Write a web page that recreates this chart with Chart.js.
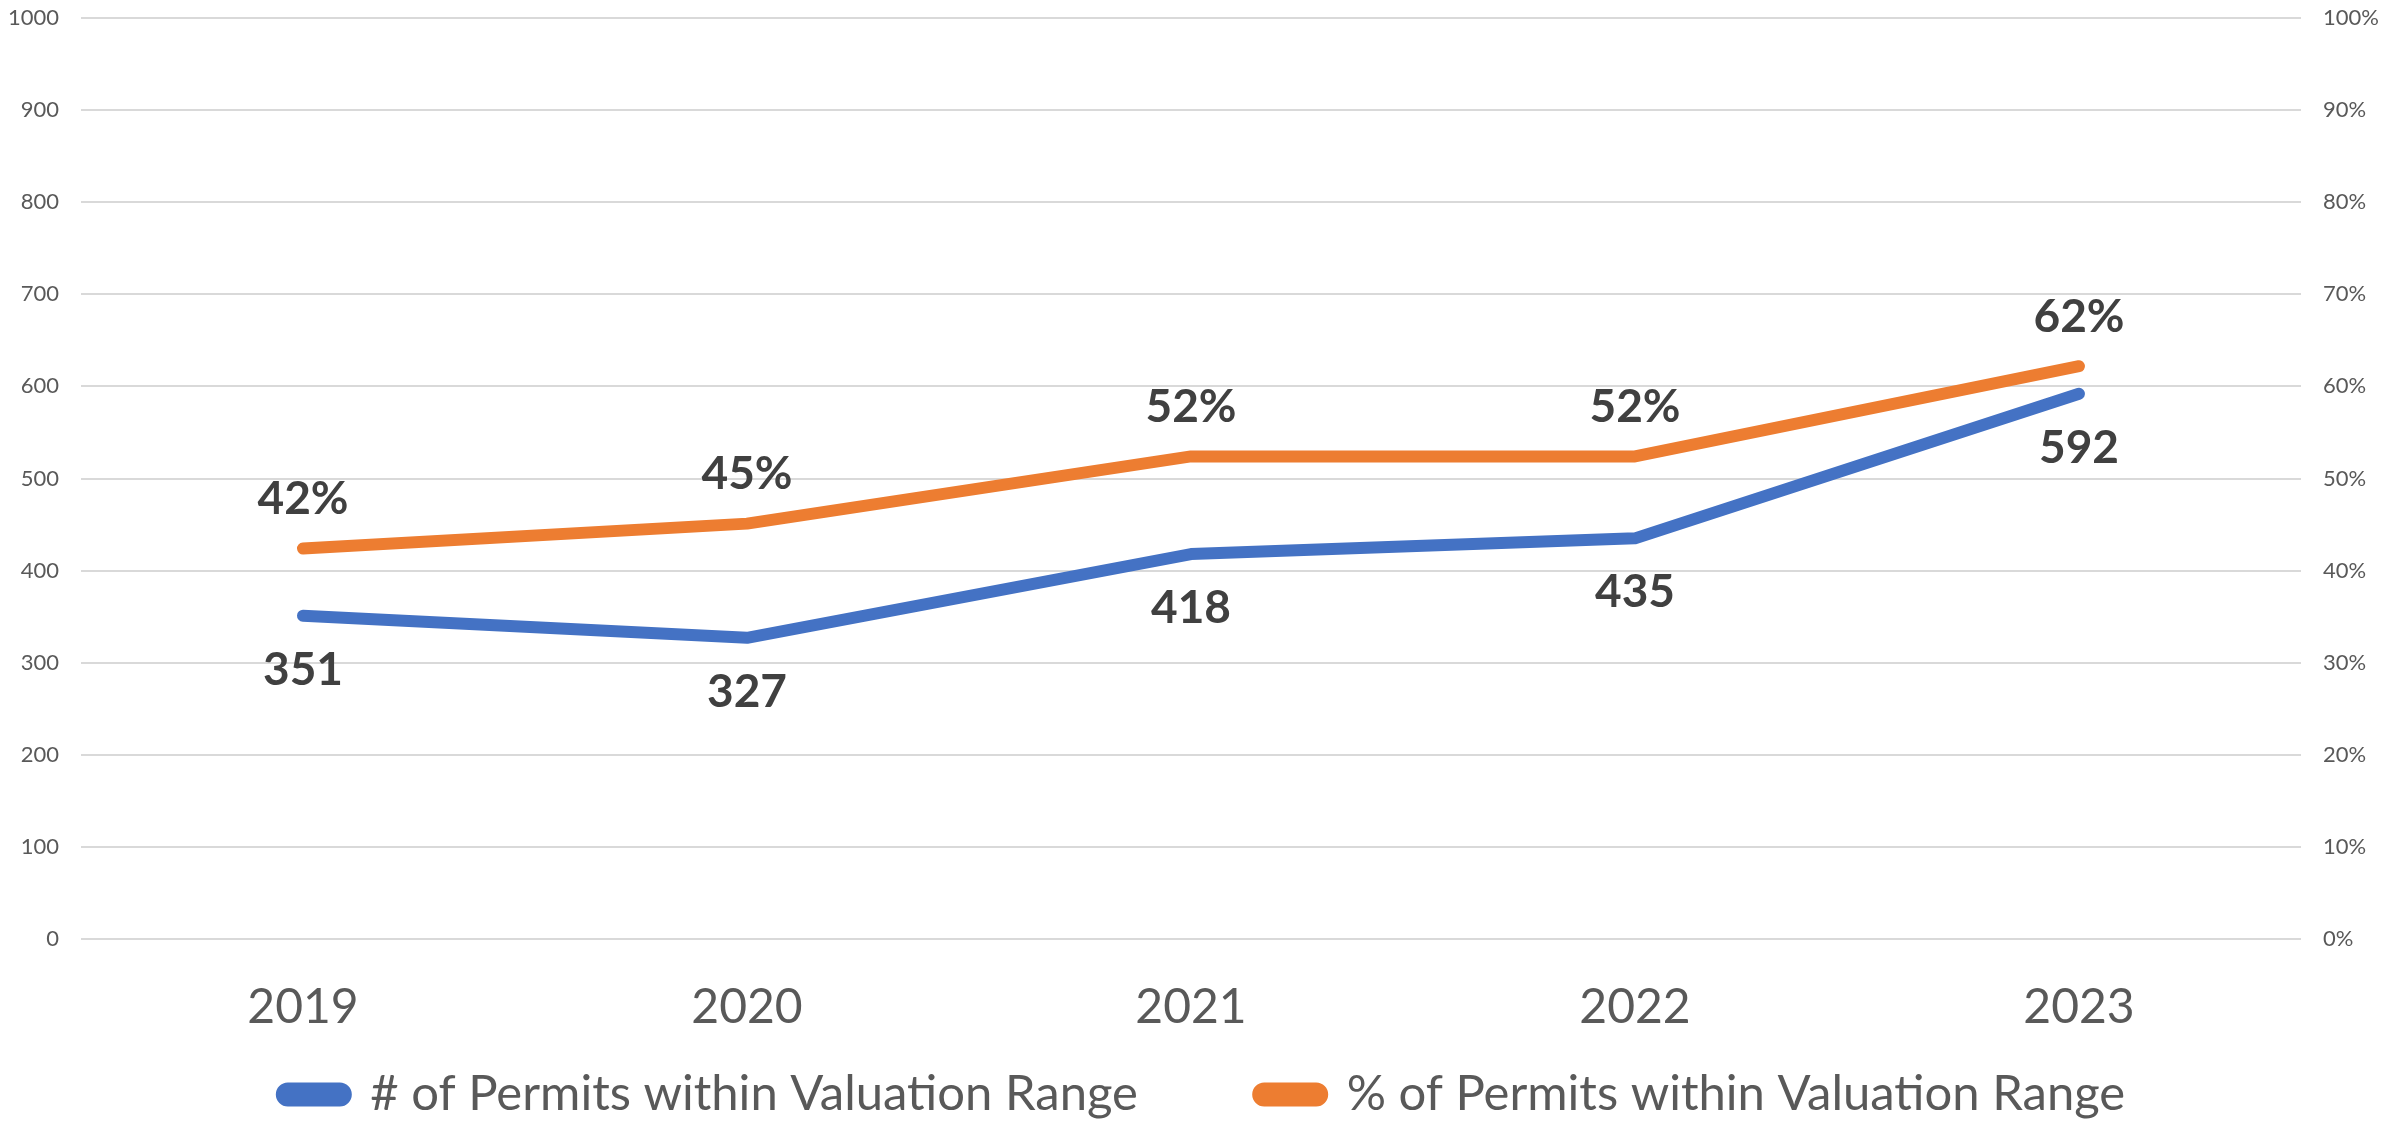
<!DOCTYPE html>
<html>
<head>
<meta charset="utf-8">
<script src="https://cdn.jsdelivr.net/npm/chart.js@4"></script>
<style>
  html, body { margin: 0; padding: 0; background: #fff; }
  #wrap { width: 2407px; height: 1121px; }
</style>
</head>
<body>
<div id="wrap"><canvas id="permitsChart"></canvas></div>
<script>
const years = ["2019", "2020", "2021", "2022", "2023"];
const permitCounts = [351, 327, 418, 435, 592];
const permitShares = [0.424, 0.451, 0.524, 0.524, 0.622];
const countTicks = [0, 100, 200, 300, 400, 500, 600, 700, 800, 900, 1000];
const shareTicks = [0, 0.1, 0.2, 0.3, 0.4, 0.5, 0.6, 0.7, 0.8, 0.9, 1];

const FONT = "Lato, 'Open Sans', sans-serif";

// value labels: counts under the blue line, shares over the orange one
const valueLabels = {
    id: "valueLabels",
    afterDatasetsDraw(chart) {
        const ctx = chart.ctx;
        ctx.save();
        ctx.font = "bold 46px " + FONT;
        ctx.fillStyle = "#404040";
        ctx.textAlign = "center";
        ctx.textBaseline = "middle";
        chart.data.datasets.forEach((ds, i) => {
            const meta = chart.getDatasetMeta(i);
            meta.data.forEach((pt, j) => {
                const v = ds.data[j];
                if (i === 0) {
                    ctx.fillText(String(v), pt.x, pt.y + 54);
                } else {
                    ctx.fillText(Math.round(v * 100) + "%", pt.x, pt.y - 49);
                }
            });
        });
        ctx.restore();
    }
};

// keep the y axes from pushing the plot area in
function fixSide(width) {
    return scale => {
        scale.width = width;
        scale.paddingTop = 0;
        scale.paddingBottom = 0;
    };
}

new Chart(document.getElementById("permitsChart"), {
    type: "line",
    data: {
        labels: years,
        datasets: [{
            label: "# of Permits within Valuation Range",
            data: permitCounts,
            yAxisID: "y",
            borderColor: "#4472C4",
            backgroundColor: "#4472C4",
            borderWidth: 12,
            borderCapStyle: "round",
            borderJoinStyle: "round",
            pointRadius: 0,
            tension: 0
        }, {
            label: "% of Permits within Valuation Range",
            data: permitShares,
            yAxisID: "y1",
            borderColor: "#ED7D31",
            backgroundColor: "#ED7D31",
            borderWidth: 12,
            borderCapStyle: "round",
            borderJoinStyle: "round",
            pointRadius: 0,
            tension: 0
        }]
    },
    options: {
        responsive: true,
        maintainAspectRatio: false,
        animation: false,
        layout: { padding: { top: 18, left: 0, right: 0, bottom: -8 } },
        plugins: {
            tooltip: { enabled: false },
            legend: {
                position: "bottom",
                labels: {
                    font: { family: FONT, size: 49 },
                    color: "#595959",
                    boxWidth: 64,
                    boxHeight: 12,
                    useBorderRadius: true,
                    borderRadius: 6,
                    padding: 10,
                    // widen the gap between the two entries
                    generateLabels(chart) {
                        const items = Chart.defaults.plugins.legend.labels.generateLabels(chart);
                        items[0].text += "\u2003\u2003\u2003";
                        return items;
                    }
                }
            }
        },
        scales: {
            x: {
                offset: true,
                grid: { display: false, drawTicks: false },
                border: { display: false },
                ticks: {
                    font: { family: FONT, size: 48 },
                    color: "#595959",
                    padding: 40
                },
                afterFit(scale) { scale.height = 121; }
            },
            y: {
                position: "left",
                min: 0,
                max: 1000,
                afterBuildTicks(scale) { scale.ticks = countTicks.map(v => ({ value: v })); },
                grid: { color: "#D9D9D9", lineWidth: 2, drawTicks: false },
                border: { display: false },
                ticks: {
                    font: { family: FONT, size: 22 },
                    color: "#595959",
                    padding: 22,
                    callback: v => String(v)
                },
                afterFit: fixSide(81)
            },
            y1: {
                position: "right",
                min: 0,
                max: 1,
                afterBuildTicks(scale) { scale.ticks = shareTicks.map(v => ({ value: v })); },
                grid: { display: false, drawTicks: false },
                border: { display: false },
                ticks: {
                    font: { family: FONT, size: 22 },
                    color: "#595959",
                    padding: 22,
                    callback: v => Math.round(v * 100) + "%"
                },
                afterFit: fixSide(106)
            }
        }
    },
    plugins: [valueLabels]
});
</script>
</body>
</html>
